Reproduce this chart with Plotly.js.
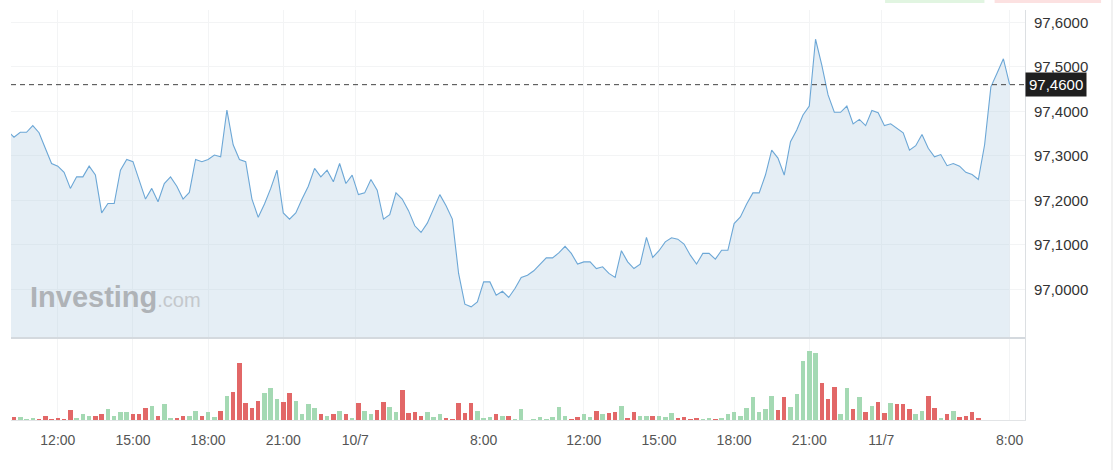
<!DOCTYPE html>
<html>
<head>
<meta charset="utf-8">
<script src="https://cdn.plot.ly/plotly-3.0.1.min.js"></script>
<style>
  html, body { margin: 0; padding: 0; background: #fff; }
  #chart { width: 1115px; height: 470px; }
</style>
</head>
<body>
<div id="chart"></div>
<script>
// 15-minute closes, index -1 .. 159 (market-hours index, gaps removed)
const firstIndex = -1;
const prices = [
97.356, 97.342, 97.353, 97.353, 97.368, 97.352, 97.317, 97.283, 97.277, 97.263,
97.227, 97.253, 97.253, 97.277, 97.257, 97.172, 97.193, 97.193, 97.268, 97.292,
97.287, 97.247, 97.203, 97.227, 97.197, 97.238, 97.253, 97.232, 97.203, 97.218,
97.292, 97.287, 97.292, 97.302, 97.298, 97.403, 97.325, 97.292, 97.287, 97.203,
97.162, 97.192, 97.227, 97.268, 97.172, 97.158, 97.172, 97.203, 97.232, 97.272,
97.253, 97.268, 97.242, 97.283, 97.238, 97.257, 97.213, 97.217, 97.247, 97.223,
97.158, 97.168, 97.217, 97.203, 97.177, 97.143, 97.128, 97.149, 97.182, 97.213,
97.188, 97.158, 97.036, 96.967, 96.961, 96.972, 97.017, 97.017, 96.987, 96.996,
96.982, 97.002, 97.027, 97.032, 97.042, 97.057, 97.071, 97.071, 97.082, 97.097,
97.081, 97.057, 97.062, 97.062, 97.047, 97.051, 97.036, 97.027, 97.087, 97.062,
97.047, 97.057, 97.117, 97.072, 97.087, 97.107, 97.116, 97.113, 97.102, 97.077,
97.057, 97.081, 97.081, 97.068, 97.088, 97.088, 97.148, 97.163, 97.192, 97.217,
97.217, 97.257, 97.313, 97.295, 97.257, 97.332, 97.358, 97.392, 97.412, 97.562,
97.504, 97.437, 97.398, 97.398, 97.412, 97.372, 97.382, 97.368, 97.402, 97.397,
97.368, 97.372, 97.362, 97.352, 97.313, 97.323, 97.348, 97.317, 97.298, 97.303,
97.278, 97.283, 97.277, 97.263, 97.258, 97.247, 97.325, 97.455, 97.486, 97.518,
97.460
];

// volume per bar, index 0 .. 154 (relative units)
const volumes = [
2.7, 2.7, 0.7, 1.7, 0.7, 4.3, 1.0, 1.7, 1.0, 9.7,
1.7, 5.7, 4.3, 4.3, 5.7, 10.7, 4.3, 8.0, 8.0, 5.7,
5.7, 12.0, 14.3, 4.3, 15.7, 1.7, 1.7, 4.3, 4.3, 9.3,
4.3, 8.0, 3.0, 9.3, 24.3, 28.0, 57.0, 17.0, 12.0, 19.3,
27.0, 32.0, 20.7, 18.0, 27.0, 19.3, 5.7, 15.7, 12.0, 5.7,
4.3, 5.7, 9.3, 5.7, 1.7, 17.0, 9.3, 5.7, 9.7, 18.3,
13.0, 8.3, 29.7, 7.0, 8.3, 4.3, 8.0, 3.0, 5.7, 1.7,
0.7, 17.0, 7.0, 17.0, 9.3, 2.0, 3.0, 5.7, 4.3, 4.3,
0.7, 10.7, 0.0, 0.7, 3.0, 0.7, 3.0, 13.0, 4.3, 1.0,
3.0, 5.7, 3.0, 9.3, 5.7, 7.0, 8.3, 14.3, 2.0, 8.3,
4.3, 4.3, 4.3, 4.3, 3.0, 7.0, 2.0, 3.0, 1.0, 1.7,
0.7, 1.7, 1.0, 2.0, 5.7, 8.3, 4.3, 12.0, 23.3, 8.3,
10.7, 24.3, 9.7, 23.3, 13.0, 25.7, 59.3, 69.3, 67.0, 37.0,
20.7, 33.0, 5.7, 32.0, 10.7, 23.0, 8.3, 14.3, 18.3, 7.0,
17.0, 15.7, 15.7, 10.7, 5.7, 9.3, 24.3, 12.0, 1.7, 5.7,
9.3, 3.0, 4.3, 8.3, 1.7
];
// direction of each volume bar: u = up (green), d = down (red)
const volDir = [
'd','u','u','u','d','d','d','d','d','d',
'u','u','u','d','d','u','u','u','u','d',
'd','d','u','d','u','u','d','d','u','u',
'd','u','u','d','u','d','d','d','d','d',
'u','u','u','d','d','u','u','u','u','d',
'u','d','u','d','u','d','u','u','d','d',
'u','u','d','d','d','d','u','u','u','d',
'd','d','d','d','u','u','u','d','u','d',
'u','u','u','u','u','u','u','u','u','d',
'd','u','u','d','u','d','d','u','d','d',
'u','u','d','u','u','u','d','d','d','d',
'u','u','d','u','u','u','u','u','u','u',
'u','u','d','d','u','u','u','u','u','d',
'd','d','u','u','d','u','d','u','d','d',
'u','d','d','d','u','u','d','d','u','d',
'u','d','d','d','d'
];

const tickVals = [7, 19, 31, 43, 54.5, 75, 91, 103, 115, 127, 138.5, 159];
const tickText = ['12:00','15:00','18:00','21:00','10/7','8:00','12:00','15:00','18:00','21:00','11/7','8:00'];
const priceTicks = [97.0, 97.1, 97.2, 97.3, 97.4, 97.5, 97.6];

const lastPrice = prices[prices.length - 1];

const px = prices.map((_, i) => firstIndex + i);
const vx = volumes.map((_, i) => i);
const vcol = volDir.map(d => d === 'u' ? 'rgb(164,217,179)' : 'rgb(226,103,103)');

const FONT = 'Liberation Sans, Arial, Helvetica, sans-serif';

const traces = [
  {
    type: 'scatter', mode: 'lines', x: px, y: prices, xaxis: 'x', yaxis: 'y',
    line: { color: 'rgb(108,167,214)', width: 1.1 },
    fill: 'tozeroy', fillcolor: 'rgba(180,205,226,0.35)',
    hoverinfo: 'skip'
  },
  {
    type: 'bar', x: vx, y: volumes, xaxis: 'x', yaxis: 'y2',
    marker: { color: vcol, line: { width: 0 } }, width: 0.72,
    hoverinfo: 'skip'
  }
];

const layout = {
  width: 1115, height: 470,
  margin: { l: 11, r: 90, t: 10, b: 50 },
  paper_bgcolor: '#ffffff', plot_bgcolor: '#ffffff',
  showlegend: false,
  separators: ',.',
  font: { family: FONT, color: '#333' },
  bargap: 0,
  xaxis: {
    range: [-0.479, 161.45], anchor: 'y2',
    tickmode: 'array', tickvals: tickVals, ticktext: tickText,
    ticks: 'outside', ticklen: 7, tickcolor: 'rgba(0,0,0,0)',
    tickfont: { size: 14, color: '#555', family: FONT },
    showgrid: true, gridcolor: '#f3f4f5', gridwidth: 1,
    showline: true, linecolor: '#e2e4e6', linewidth: 1,
    zeroline: false, fixedrange: true
  },
  yaxis: {
    domain: [0.2, 1], range: [96.891, 97.6277], side: 'right', anchor: 'x',
    tickmode: 'array', tickvals: priceTicks, tickformat: '.4f',
    ticks: 'outside', ticklen: 5, tickcolor: 'rgba(0,0,0,0)',
    tickfont: { size: 15, color: '#333', family: FONT },
    showgrid: true, gridcolor: '#f3f4f5', gridwidth: 1,
    showline: true, linecolor: '#dcdfe2', linewidth: 1,
    zeroline: false, fixedrange: true
  },
  yaxis2: {
    domain: [0, 0.2], range: [0, 82], side: 'right', anchor: 'x',
    showticklabels: false, showgrid: false, ticks: '',
    showline: true, linecolor: '#dcdfe2', linewidth: 1,
    zeroline: false, fixedrange: true
  },
  shapes: [
    { type: 'line', xref: 'paper', yref: 'paper', x0: 0, x1: 1, y0: 0.2, y1: 0.2,
      line: { color: '#d4d9de', width: 2 } },
    { type: 'line', xref: 'paper', yref: 'y', x0: 0, x1: 1, y0: lastPrice, y1: lastPrice,
      line: { color: '#444', width: 1, dash: '5px,4px' } },
    { type: 'line', xref: 'paper', yref: 'paper', x0: 1.0858, x1: 1.0858, y0: -0.13, y1: 1.03,
      line: { color: '#e3e3e3', width: 1 } },
    { type: 'rect', xref: 'paper', yref: 'paper', x0: 0.862, x1: 0.96, y0: 1.017, y1: 1.03,
      line: { width: 0 }, fillcolor: 'rgba(170,225,170,0.35)' },
    { type: 'rect', xref: 'paper', yref: 'paper', x0: 0.97, x1: 1.075, y0: 1.017, y1: 1.03,
      line: { width: 0 }, fillcolor: 'rgba(245,170,170,0.35)' }
  ],
  annotations: [
    { xref: 'paper', yref: 'y', x: 1, y: lastPrice, xanchor: 'left', yanchor: 'middle',
      text: lastPrice.toFixed(4).replace('.', ','), showarrow: false,
      bgcolor: '#1f1f1f', borderpad: 3, font: { size: 15, color: '#ffffff', family: FONT } },
    { xref: 'paper', yref: 'paper', x: 0.0168, y: 0.299, xanchor: 'left', yanchor: 'middle',
      showarrow: false,
      text: '<b>Investing</b><span style="font-size:20px;fill:#c4c8cc">.com</span>',
      font: { size: 29, color: '#afb3b7', family: FONT } }
  ]
};

Plotly.newPlot('chart', traces, layout, { displayModeBar: false, staticPlot: true });
</script>
</body>
</html>
